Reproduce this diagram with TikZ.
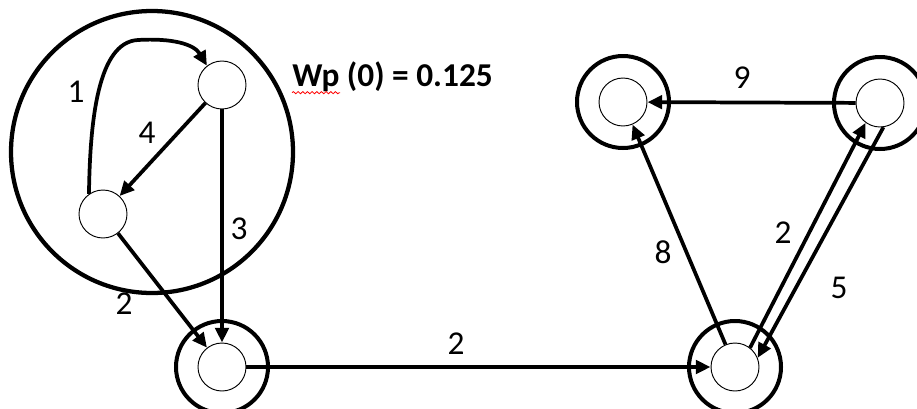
\documentclass[tikz,border=0pt]{standalone}
\usepackage{fontspec}
\setmainfont{Carlito}
\usetikzlibrary{arrows.meta,decorations.pathmorphing}

\begin{document}
\begin{tikzpicture}[x=0.75pt, y=-0.75pt,
  every node/.style={font=\fontsize{25}{30}\selectfont},
  st/.style={circle, draw, line width=0.7pt, minimum size=36pt, inner sep=0pt},
  ring/.style={circle, draw, line width=3pt, minimum size=69pt, inner sep=0pt},
  grp/.style={circle, draw, line width=3.2pt, minimum size=211.5pt, inner sep=0pt},
  arr/.style={-{Triangle[length=11pt,width=10pt]}, line width=2.8pt},
]
\useasboundingbox (0,0) rectangle (917,408);

% group with two states
\node[grp] (cl) at (152,152) {};
\node[st] (a) at (222,85)  {};
\node[st] (b) at (103,214) {};

% ringed states
\node[st]   (c)  at (222,367) {};
\node[ring] (cr) at (222,367) {};
\node[st]   (d)  at (735,367) {};
\node[ring] (dr) at (735,367) {};
\node[st]   (e)  at (623,102) {};
\node[ring] (er) at (623,102) {};
\node[st]   (f)  at (880,103) {};
\node[ring] (fr) at (880,103) {};

\draw[arr] (b.125) .. controls (90,120) and (98,42) .. (138,40)
           .. controls (172,38) and (194,44) .. (a.128);
\draw[arr] (a)--(b); \draw[arr] (a)--(c); \draw[arr] (b)--(c);
\draw[arr] (c)--(d); \draw[arr] (d)--(e); \draw[arr] (f)--(e);
\draw[arr] (d.52)--(f.234); \draw[arr] (f.278)--(d.22);

\node (l1) at (76,92)   {1};
\node (l4) at (147,133) {4};
\node (l3) at (239,229) {3};
\node (l2a) at (124,304) {2};
\node (l2b) at (456,344) {2};
\node (l9) at (742,78)  {9};
\node (l8) at (663,252) {8};
\node (l2c) at (783,233) {2};
\node (l5) at (839,288) {5};

\node[font=\fontsize{25}{30}\selectfont\bfseries, inner sep=0pt, anchor=base west]
  (wp) at (292,86) {Wp (0) = 0.125};
\draw[red, line width=0.6pt, decorate,
      decoration={snake, amplitude=0.8pt, segment length=3.5pt}]
  ([yshift=-5pt]wp.base west) -- ++(48,0);
\end{tikzpicture}
\end{document}
